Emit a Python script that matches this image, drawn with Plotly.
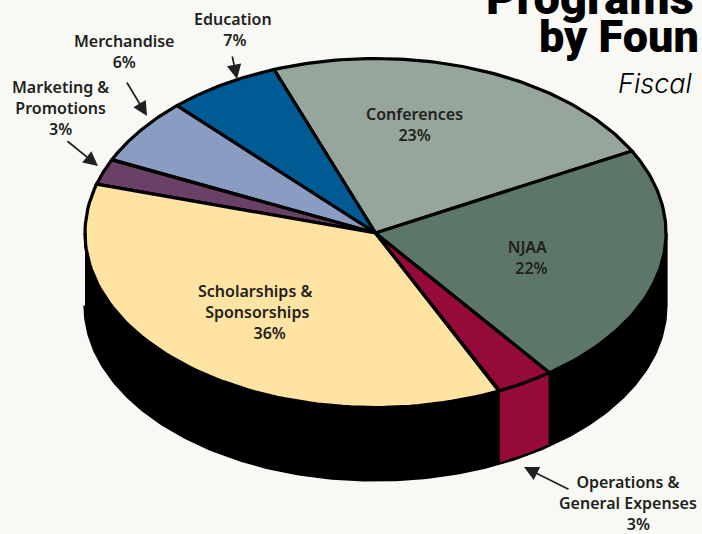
import numpy as np
import plotly.graph_objects as go

# Slice data, counter-clockwise from the Conferences / NJAA boundary
categories = ["Conferences", "Education", "Merchandise", "Marketing & Promotions",
              "Scholarships & Sponsorships", "Operations & General Expenses", "NJAA"]
values = [22.9, 6.3, 6.1, 2.4, 36.5, 3.25, 22.55]
colors = ["#97A69C", "#005A94", "#8A9CC2", "#694066", "#FFE3A3", "#950A38", "#5C7768"]

start_deg = 28
cx, cy, rx, ry, depth = 375.5, 233, 290.5, 174.5, 72.5
BG = "#F8F9F4"
INK = "#231F20"

def ex(t):
    return cx + rx * np.cos(np.radians(t))

def ey(t, d=0):
    return cy - ry * np.sin(np.radians(t)) + d

edges = start_deg + np.cumsum([0] + values) * 3.6
fig = go.Figure()

def poly(xs, ys, fill, lw=3.2, lc="#000000"):
    fig.add_trace(go.Scatter(x=xs, y=ys, mode="lines", fill="toself", fillcolor=fill,
                             line=dict(color=lc, width=lw), hoverinfo="skip", showlegend=False))

# side wall (black)
t = np.linspace(180, 360, 200)
poly(np.r_[ex(t), ex(t[::-1])], np.r_[ey(t), ey(t[::-1], depth)], "#000000")

# visible wall of the Operations slice
a, b = edges[5], edges[6]
t = np.linspace(a, b, 30)
poly(np.r_[ex(t), ex(t[::-1]), ex(t[0])], np.r_[ey(t), ey(t[::-1], depth), ey(t[0])], colors[5], lw=2)

# top face slices
for i, c in enumerate(colors):
    t = np.linspace(edges[i], edges[i + 1], 80)
    poly(np.r_[cx, ex(t), cx], np.r_[cy, ey(t), cy], c)

NB = "\u00a0"
# Labels: text, centre x, centre y
labels = [
    (f"Education<br>{NB}7%", 233, 29),
    ("Merchandise<br>6%", 124, 51),
    ("Marketing &<br>Promotions<br>3%", 60, 108),
    ("Conferences<br>23%", 414, 124),
    (f"NJAA<br>{NB}{NB}22%", 527, 257),
    (f"Scholarships &<br>{NB}Sponsorships<br>{NB*7}36%", 255, 312),
    (f"Operations &<br>General Expenses<br>{NB*5}3%", 628, 502.5),
]
annotations = [dict(x=x, y=y, text=s, showarrow=False, xanchor="center", yanchor="middle",
                    font=dict(family="Noto Sans", size=16, color=INK, weight=600))
               for s, x, y in labels]

# Title pieces (cut off by the page edge): text, right x, y, yshift, size, family, weight, style
title = [("Programs", 696, 1, 4, 47, "Roboto", 900, "normal"),
         ("by Foun", 701, 36, 0, 45, "Roboto", 900, "normal"),
         ("Fiscal", 695, 83, 0, 27, "Inter", 300, "italic")]
for s, x, y, ys, size, fam, w, st in title:
    annotations.append(dict(x=x, y=y, yshift=ys, text=s, showarrow=False, xanchor="right", yanchor="middle",
                            font=dict(family=fam, size=size, color="#000000", weight=w, style=st)))

# Leader arrows: tail x, tail y, head x, head y
arrows = [(232, 55, 237, 79), (126, 81, 147, 116), (66, 140, 98, 166), (570, 490, 524, 467)]
for x0, y0, x1, y1 in arrows:
    annotations.append(dict(x=x1, y=y1, ax=x0, ay=y0, axref="x", ayref="y", xref="x", yref="y",
                            showarrow=True, arrowhead=2, arrowsize=1.7, arrowwidth=1.7,
                            arrowcolor=INK, text=""))

fig.update_layout(
    width=702, height=534, margin=dict(l=0, r=0, t=0, b=0),
    paper_bgcolor=BG, plot_bgcolor=BG, showlegend=False, annotations=annotations,
    xaxis=dict(range=[0, 702], visible=False, fixedrange=True),
    yaxis=dict(range=[534, 0], visible=False, fixedrange=True),
)
fig.write_html("out.html", config=dict(displayModeBar=False),
               post_script=f"document.body.style.margin='0';document.body.style.background='{BG}';document.body.style.overflow='hidden';")
